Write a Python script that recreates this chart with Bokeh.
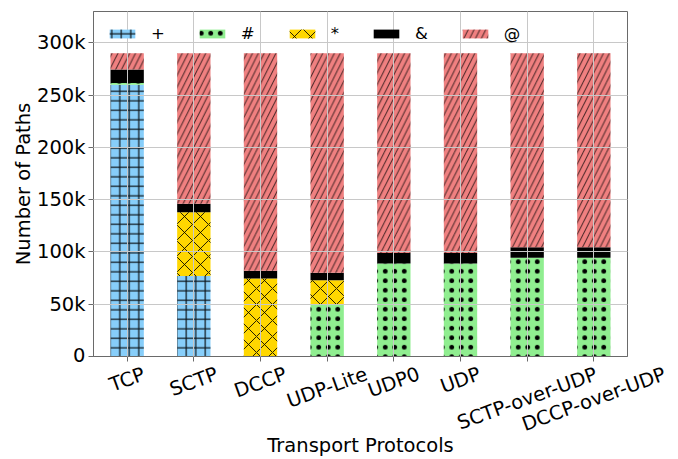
import math

from bokeh.plotting import figure
from bokeh.layouts import column
from bokeh.models import ColumnDataSource, FixedTicker, Range1d
from bokeh.embed import file_html
from bokeh.resources import INLINE

# ---- data -------------------------------------------------------------
protocols = ["TCP", "SCTP", "DCCP", "UDP-Lite", "UDP0", "UDP",
             "SCTP-over-UDP", "DCCP-over-UDP"]

plus_paths = [260000, 77000, 0, 0, 0, 0, 0, 0]
hash_paths = [1500, 0, 0, 49500, 89000, 89000, 94500, 94500]
star_paths = [0, 61000, 74500, 23500, 0, 0, 0, 0]
amp_paths = [13000, 8000, 7500, 7000, 10000, 10000, 10000, 10000]
at_paths = [15500, 144000, 208000, 210000, 191000, 191000, 185500, 185500]

y_tick_values = [0, 50000, 100000, 150000, 200000, 250000, 300000]
y_tick_labels = ["0", "50k", "100k", "150k", "200k", "250k", "300k"]

legend_labels = ["+", "#", "*", "&", "@"]

# ---- styling ----------------------------------------------------------
FONT = "DejaVu Sans"
FS = 19.5
W, H = 678, 459
BORDER_L, BORDER_R, BORDER_T, FRAME_H = 93, 51, 11, 345
BORDER_B = 10                      # room for the x ticks under the frame
MAIN_H = BORDER_T + FRAME_H + BORDER_B
AXIS_Y = BORDER_T + FRAME_H        # pixel row of the x axis
STRIP_H = H - AXIS_Y               # strip starts at the axis row (overlaps)
X_START, X_END = -0.505, 7.505

stack_cols = ["plus", "hash", "star", "amp", "at"]
fills = ["#87CEFA", "#90EE90", "#FFD700", "#000000", "#F08080"]
hatches = ["+", ".", "x", " ", "/"]
hatch_scales = [9.5, 9.5, 16, 12, 11.7]
hatch_alphas = [0.9, 1.0, 0.85, 1.0, 0.7]
hatch_weights = [1.2, 1.0, 1.0, 1.0, 1.0]
frame_color = "#6a6a6a"

xs = list(range(len(protocols)))
source = ColumnDataSource(dict(
    x=xs, plus=plus_paths, hash=hash_paths, star=star_paths,
    amp=amp_paths, at=at_paths,
))

p = figure(
    width=W, height=MAIN_H, title=None,
    x_range=Range1d(X_START, X_END), y_range=Range1d(0, 330000),
    output_backend="svg", toolbar_location=None,
    min_border_left=BORDER_L, min_border_right=BORDER_R,
    min_border_top=BORDER_T, min_border_bottom=BORDER_B,
    frame_align=False,
)

p.vbar_stack(
    stack_cols, x="x", width=0.5, source=source,
    fill_color=fills, line_color=None,
    hatch_pattern=hatches, hatch_color="black",
    hatch_scale=hatch_scales, hatch_alpha=hatch_alphas,
    hatch_weight=hatch_weights,
    legend_label=legend_labels,
)

# ---- axes & grid --------------------------------------------------------
# bottom axis keeps only its tick marks; the names are set in the strip
p.xaxis.ticker = FixedTicker(ticks=xs)
p.xaxis.major_label_overrides = {i: "" for i in xs}
p.xaxis.major_label_text_font_size = "0px"
p.xaxis.major_label_standoff = 0
p.yaxis.ticker = FixedTicker(ticks=y_tick_values)
p.yaxis.major_label_overrides = dict(zip(y_tick_values, y_tick_labels))

for ax in (p.xaxis, p.yaxis):
    ax.axis_line_color = frame_color
    ax.major_tick_line_color = frame_color
    ax.major_tick_out = 5
    ax.major_tick_in = 0
    ax.minor_tick_line_color = None

p.yaxis.major_label_text_font = FONT
p.yaxis.major_label_text_font_size = f"{FS}px"
p.yaxis.major_label_text_color = "black"
p.yaxis.major_label_standoff = 3
p.yaxis.axis_label = "Number of Paths"
p.yaxis.axis_label_text_font = FONT
p.yaxis.axis_label_text_font_size = f"{FS}px"
p.yaxis.axis_label_text_font_style = "normal"
p.yaxis.axis_label_text_color = "black"
p.yaxis.axis_label_standoff = -1

p.outline_line_color = frame_color
p.outline_line_width = 1

p.xgrid.ticker = FixedTicker(ticks=xs)
p.ygrid.ticker = FixedTicker(ticks=y_tick_values)
for g in (p.xgrid, p.ygrid):
    g.grid_line_color = "#c8c8c8"
    g.grid_line_width = 1
    g.level = "guide"

# ---- legend -------------------------------------------------------------
lg = p.legend[0]
lg.location = "top_left"
lg.orientation = "horizontal"
lg.margin = 0
lg.padding = 13
lg.glyph_width = 32
lg.glyph_height = 11
lg.label_standoff = 13
lg.label_width = 1
lg.spacing = 31
lg.label_text_font = FONT
lg.label_text_font_size = "16.5px"
lg.label_text_color = "black"
lg.background_fill_alpha = 0
lg.border_line_alpha = 0

# ---- transparent strip under the plot: category names and the x title -----
# it is pulled up so its top row is the x axis; y counts pixels below the axis
# and the x range is widened by the side borders to keep the same mapping
px_per_unit = (W - BORDER_L - BORDER_R) / (X_END - X_START)
strip = figure(
    width=W, height=STRIP_H, title=None,
    x_range=Range1d(X_START - BORDER_L / px_per_unit,
                    X_END + BORDER_R / px_per_unit),
    y_range=Range1d(STRIP_H, 0),
    output_backend="svg", toolbar_location=None,
    min_border=0, min_border_left=0, min_border_right=0,
    min_border_top=0, min_border_bottom=0,
    outline_line_color=None, frame_align=False,
    background_fill_alpha=0, border_fill_alpha=0,
    margin=(-BORDER_B, 0, 0, 0),
)
strip.axis.visible = False
strip.grid.visible = False

# advance widths (em) of DejaVu Sans, used to drop each rotated name so that
# its top edge sits just below the tick marks
ADV = {"T": .611, "C": .698, "P": .603, "S": .635, "D": .770, "U": .732,
       "L": .557, "i": .278, "t": .392, "e": .615, "0": .636, "-": .361,
       "o": .612, "v": .592, "r": .411}
ANGLE = 20
sin_a, cos_a = math.sin(math.radians(ANGLE)), math.cos(math.radians(ANGLE))
drops = []
for name in protocols:
    length = sum(ADV.get(ch, .6) for ch in name) * FS
    drops.append(10 + (length * sin_a + 0.73 * FS * cos_a) / 2)

strip.text(
    x=xs, y=drops, text=protocols,
    angle=ANGLE, angle_units="deg",
    text_align="center", text_baseline="middle",
    text_font={"value": FONT}, text_font_size=f"{FS}px", text_color="black",
)
strip.text(
    x=[(X_START + X_END) / 2], y=[444.5 - AXIS_Y], text=["Transport Protocols"],
    text_align="center", text_baseline="middle",
    text_font={"value": FONT}, text_font_size=f"{FS}px", text_color="black",
)

layout = column(p, strip, spacing=0)
open("out.html", "w").write(file_html(layout, INLINE))
